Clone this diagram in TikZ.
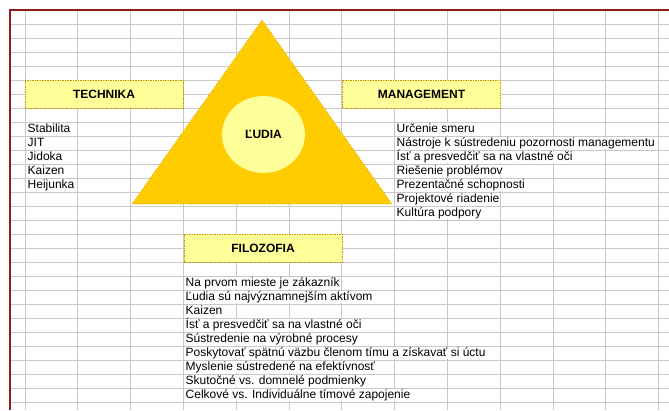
\documentclass[tikz,border=0pt]{standalone}
\usepackage{fontspec}
\setmainfont{Liberation Sans}
\usepackage{xcolor}
\usetikzlibrary{shapes.geometric}
\definecolor{gridgray}{RGB}{200,200,200}
\definecolor{sheetred}{RGB}{140,30,30}
\definecolor{pyrgold}{RGB}{255,204,0}
\definecolor{paleyellow}{RGB}{255,255,153}
\definecolor{edgegold}{RGB}{200,150,0}
\tikzstyle{headbox} = [draw=edgegold, dash pattern=on 1.5pt off 1pt, line width=0.6pt, fill=paleyellow, minimum width=158pt, minimum height=28pt, font=\fontsize{12}{14}\selectfont\bfseries]
\tikzstyle{item} = [anchor=west, fill=white, inner xsep=0pt, inner ysep=0pt, minimum height=12pt, text height=9pt, text depth=2.5pt]

\begin{document}
\begin{tikzpicture}[x=1pt,y=-1pt,font=\fontsize{12}{14}\selectfont]
      \useasboundingbox (0,0) rectangle (669,410);
      \fill[white] (0,0) rectangle (669,410);
      %%%%%%%%%%%%%%%%%%%%%%%%%%%%%%%%%%%%%%%
      % sheet grid
      \foreach \k in {0,...,12}
        \draw[gridgray, line width=0.8pt] (25+52.8*\k,10) -- (25+52.8*\k,410);
      \foreach \k in {1,...,28}
        \draw[gridgray, line width=0.8pt] (10,10+14*\k) -- (669,10+14*\k);
      \draw[sheetred, line width=2pt] (9.5,410) -- (9.5,9.5) -- (669,9.5);
      %%%%%%%%%%%%%%%%%%%%%%%%%%%%%%%%%%%%%%%
      \filldraw[fill=pyrgold, draw=edgegold, dotted, line width=0.7pt] (132,204) -- (262,20) -- (392,204) -- cycle;
      \node (ludia) [ellipse, fill=paleyellow, draw=paleyellow!70!orange, dotted, minimum width=83pt, minimum height=77pt, font=\fontsize{12}{14}\selectfont\bfseries] at (263.5,134.5) {ĽUDIA};
      \node (technika) [headbox] at (104,94) {TECHNIKA};
      \node (management) [headbox] at (421.5,94) {MANAGEMENT};
      \node (filozofia) [headbox] at (263,248) {FILOZOFIA};
      %\node (p1) at (0,0) {};
      \node (tech1) [item] at (27.5,129) {Stabilita};
      \node (tech2) [item] at (27.5,143) {JIT};
      \node (tech3) [item] at (27.5,157) {Jidoka};
      \node (tech4) [item] at (27.5,171) {Kaizen};
      \node (tech5) [item] at (27.5,185) {Heijunka};
      \node (man1) [item] at (396.5,129) {Určenie smeru};
      \node (man2) [item] at (396.5,143) {Nástroje k sústredeniu pozornosti managementu};
      \node (man3) [item] at (396.5,157) {Ísť a presvedčiť sa na vlastné oči};
      \node (man4) [item] at (396.5,171) {Riešenie problémov};
      \node (man5) [item] at (396.5,185) {Prezentačné schopnosti};
      \node (man6) [item] at (396.5,199) {Projektové riadenie};
      \node (man7) [item] at (396.5,213) {Kultúra podpory};
      \node (fil1) [item] at (185.5,283) {Na prvom mieste je zákazník};
      \node (fil2) [item] at (185.5,297) {Ľudia sú najvýznamnejším aktívom};
      \node (fil3) [item] at (185.5,311) {Kaizen};
      \node (fil4) [item] at (185.5,325) {Ísť a presvedčiť sa na vlastné oči};
      \node (fil5) [item] at (185.5,339) {Sústredenie na výrobné procesy};
      \node (fil6) [item] at (185.5,353) {Poskytovať spätnú väzbu členom tímu a získavať si úctu};
      \node (fil7) [item] at (185.5,367) {Myslenie sústredené na efektívnosť};
      \node (fil8) [item] at (185.5,381) {Skutočné vs. domnelé podmienky};
      \node (fil9) [item] at (185.5,395) {Celkové vs. Individuálne tímové zapojenie};
\end{tikzpicture}
\end{document}
